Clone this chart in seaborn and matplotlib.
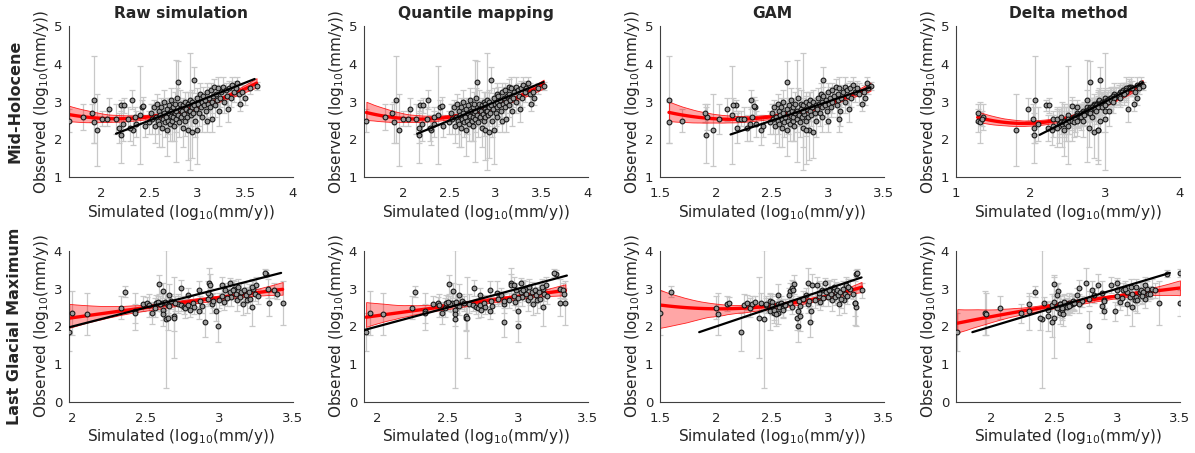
import matplotlib
matplotlib.use("Agg")
import numpy as np
import pandas as pd
import matplotlib.pyplot as plt
from matplotlib.ticker import FormatStrFormatter
import seaborn as sns

#### DATA ####
methods = ["Raw simulation", "Quantile mapping", "GAM", "Delta method"]
periods = ["Mid-Holocene", "Last Glacial Maximum"]

# Mid-Holocene: observed values + uncertainty (shared by all four methods)
mh_obs = [
    2.50, 3.05, 2.45, 2.60, 2.70, 2.25, 2.55, 2.55, 2.80, 2.55,
    2.90, 2.90, 2.12, 2.30, 2.40, 2.55, 2.60, 3.05, 2.25, 2.40,
    2.65, 2.85, 2.35, 2.88, 2.30,
    2.45, 2.70, 2.55, 2.85, 2.35, 2.60, 2.95, 2.50, 2.75, 2.40,
    2.65, 2.85, 2.30, 2.55, 2.70, 3.00, 2.45, 2.60, 2.80, 2.25,
    2.50, 2.70, 2.90, 2.40, 2.62, 3.05, 2.75, 2.50, 2.85, 2.60,
    2.35, 2.70, 2.95, 2.55, 2.75, 3.10, 3.52, 2.65, 2.45, 2.80,
    2.95, 2.60, 2.75, 2.30, 2.90, 2.68, 3.00, 2.50, 2.80, 2.60,
    2.95, 2.25, 2.75, 3.05, 2.75, 2.65, 2.85, 2.20, 3.00, 2.70,
    3.58, 2.90, 2.50, 2.80, 3.10, 2.25, 2.95, 2.70, 3.20, 2.85,
    3.00, 2.60, 3.15, 2.90, 3.05, 2.75, 2.50, 3.25, 2.95, 3.10,
    2.85, 3.30, 3.00, 2.55, 3.15, 3.40, 2.90, 3.20, 3.05, 3.35,
    2.75, 3.10, 3.25, 3.40, 3.00, 3.30, 3.15, 2.80, 3.35, 3.10,
    3.45, 3.25, 3.35, 3.50, 3.20, 2.95, 3.25, 3.10, 3.35, 3.42,
]
mh_err = [
    0.30, 1.15, 0.55, 0.35, 0.25, 0.95, 0.20, 0.20, 0.30, 0.40,
    0.15, 0.20, 0.75, 0.40, 0.45, 0.30, 0.25, 0.25, 0.40, 0.35,
    1.30, 0.20, 0.30, 0.25, 0.35,
    0.30, 0.25, 0.40, 0.20, 0.45, 0.30, 0.25, 0.35, 0.20, 0.60,
    0.30, 0.25, 0.50, 0.30, 0.20, 0.30, 0.40, 0.25, 0.30, 0.70,
    0.35, 0.25, 0.20, 0.45, 0.30, 0.30, 0.20, 0.55, 0.25, 0.30,
    0.40, 0.20, 0.30, 0.35, 1.35, 0.25, 0.55, 0.30, 0.40, 0.20,
    0.35, 0.25, 0.30, 0.50, 0.20, 0.30, 0.25, 0.40, 0.20, 0.35,
    0.30, 0.80, 0.25, 0.20, 1.55, 0.30, 0.25, 0.70, 0.30, 0.25,
    0.35, 0.20, 0.45, 0.30, 0.25, 0.90, 0.20, 0.35, 0.30, 0.25,
    0.20, 0.40, 0.25, 0.30, 0.20, 0.35, 0.30, 0.25, 0.20, 0.30,
    0.25, 0.20, 0.30, 0.35, 0.25, 0.20, 0.30, 0.25, 0.20, 0.30,
    0.40, 0.25, 0.20, 0.25, 0.30, 0.20, 0.25, 0.35, 0.20, 0.25,
    0.20, 0.25, 0.20, 0.15, 0.30, 0.20, 0.20, 0.20, 0.15, 0.10,
]
mh_raw = [
    1.66, 1.92, 1.92, 1.80, 1.90, 1.95, 2.00, 2.06, 2.08, 2.15,
    2.20, 2.23, 2.20, 2.18, 2.22, 2.28, 2.35, 2.32, 2.33, 2.36,
    2.40, 2.42, 2.45, 2.43, 2.30,
    2.50, 2.52, 2.53, 2.55, 2.56, 2.57, 2.58, 2.59, 2.60, 2.60,
    2.61, 2.62, 2.63, 2.64, 2.65, 2.65, 2.66, 2.67, 2.68, 2.68,
    2.69, 2.70, 2.70, 2.71, 2.72, 2.72, 2.73, 2.74, 2.75, 2.75,
    2.76, 2.77, 2.77, 2.78, 2.78, 2.79, 2.80, 2.80, 2.81, 2.82,
    2.82, 2.83, 2.84, 2.85, 2.85, 2.86, 2.87, 2.87, 2.88, 2.89,
    2.90, 2.90, 2.91, 2.92, 2.92, 2.93, 2.94, 2.95, 2.95, 2.96,
    2.97, 2.97, 2.98, 2.99, 3.00, 3.00, 3.01, 3.02, 3.03, 3.04,
    3.05, 3.05, 3.06, 3.07, 3.08, 3.09, 3.10, 3.10, 3.11, 3.12,
    3.13, 3.14, 3.15, 3.15, 3.16, 3.18, 3.19, 3.20, 3.21, 3.22,
    3.23, 3.24, 3.25, 3.27, 3.28, 3.30, 3.31, 3.32, 3.33, 3.35,
    3.36, 3.38, 3.40, 3.42, 3.44, 3.45, 3.47, 3.50, 3.55, 3.62,
]
mh_qm = [
    1.60, 1.92, 1.90, 1.80, 1.88, 1.95, 2.00, 2.05, 2.07, 2.14,
    2.18, 2.21, 2.17, 2.17, 2.20, 2.26, 2.33, 2.27, 2.30, 2.33,
    2.38, 2.40, 2.43, 2.42, 2.29,
    2.50, 2.52, 2.53, 2.55, 2.56, 2.57, 2.58, 2.59, 2.60, 2.60,
    2.61, 2.62, 2.63, 2.64, 2.65, 2.65, 2.66, 2.67, 2.68, 2.68,
    2.69, 2.70, 2.70, 2.71, 2.72, 2.72, 2.73, 2.74, 2.75, 2.75,
    2.76, 2.77, 2.77, 2.78, 2.78, 2.79, 2.80, 2.80, 2.81, 2.82,
    2.82, 2.83, 2.84, 2.85, 2.85, 2.86, 2.87, 2.87, 2.88, 2.89,
    2.89, 2.89, 2.90, 2.91, 2.91, 2.92, 2.93, 2.93, 2.93, 2.94,
    2.95, 2.95, 2.96, 2.97, 2.98, 2.98, 2.99, 3.00, 3.01, 3.01,
    3.02, 3.02, 3.03, 3.04, 3.05, 3.06, 3.07, 3.07, 3.08, 3.09,
    3.10, 3.10, 3.11, 3.11, 3.12, 3.14, 3.15, 3.15, 3.16, 3.17,
    3.18, 3.19, 3.20, 3.22, 3.22, 3.24, 3.25, 3.26, 3.27, 3.29,
    3.30, 3.32, 3.33, 3.35, 3.37, 3.38, 3.40, 3.42, 3.46, 3.52,
]
mh_gam = [
    1.70, 1.58, 1.58, 1.92, 1.90, 1.97, 2.20, 2.22, 2.10, 2.03,
    2.18, 2.15, 1.91, 2.19, 2.30, 2.25, 2.32, 2.31, 2.40, 2.36,
    2.14, 2.35, 2.42, 2.34, 2.28,
    2.48, 2.50, 2.51, 2.52, 2.53, 2.54, 2.55, 2.55, 2.56, 2.56,
    2.57, 2.58, 2.59, 2.59, 2.60, 2.60, 2.61, 2.62, 2.63, 2.63,
    2.64, 2.65, 2.65, 2.66, 2.67, 2.67, 2.68, 2.69, 2.69, 2.69,
    2.70, 2.71, 2.71, 2.72, 2.72, 2.73, 2.63, 2.74, 2.75, 2.76,
    2.76, 2.77, 2.78, 2.78, 2.78, 2.79, 2.80, 2.80, 2.81, 2.82,
    2.83, 2.83, 2.84, 2.84, 2.78, 2.85, 2.86, 2.87, 2.87, 2.88,
    2.96, 2.89, 2.89, 2.90, 2.91, 2.80, 2.92, 2.93, 2.94, 2.95,
    2.95, 2.95, 2.96, 2.97, 2.98, 2.99, 3.00, 3.00, 3.01, 3.02,
    3.03, 3.04, 3.04, 3.10, 3.05, 3.07, 3.08, 3.09, 3.09, 3.10,
    3.11, 3.12, 3.13, 3.15, 3.15, 3.17, 3.18, 3.19, 3.20, 3.21,
    3.22, 3.24, 3.26, 3.35, 3.28, 3.30, 3.32, 3.33, 3.36, 3.38,
]
mh_delta = [
    1.30, 2.06, 1.32, 1.36, 1.29, 1.80, 1.35, 2.30, 1.97, 2.03,
    2.20, 2.25, 2.05, 2.04, 2.10, 2.35, 2.40, 2.75, 2.28, 2.38,
    2.50, 2.62, 2.30, 2.55, 2.23,
    2.40, 2.62, 2.50, 2.75, 2.38, 2.58, 2.85, 2.45, 2.70, 2.42,
    2.62, 2.80, 2.35, 2.55, 2.68, 2.90, 2.45, 2.60, 2.78, 2.45,
    2.52, 2.70, 2.85, 2.48, 2.63, 2.92, 2.74, 2.55, 2.82, 2.64,
    2.50, 2.72, 2.90, 2.60, 2.76, 3.00, 2.80, 2.68, 2.58, 2.80,
    2.92, 2.66, 2.76, 2.78, 2.88, 2.72, 2.96, 2.62, 2.82, 2.68,
    2.94, 2.90, 2.80, 3.02, 3.00, 2.72, 2.86, 2.85, 2.98, 2.78,
    2.93, 2.92, 2.70, 2.86, 3.06, 2.90, 2.96, 2.80, 3.12, 2.90,
    3.00, 2.82, 3.10, 2.95, 3.04, 2.88, 2.93, 3.20, 3.00, 3.08,
    2.95, 3.24, 3.04, 3.00, 3.14, 3.32, 3.00, 3.18, 3.08, 3.28,
    3.05, 3.12, 3.22, 3.35, 3.10, 3.28, 3.18, 3.30, 3.33, 3.20,
    3.42, 3.28, 3.36, 3.48, 3.25, 3.38, 3.40, 3.42, 3.45, 3.50,
]

# Last Glacial Maximum
lgm_obs = [
    1.85, 2.35, 2.33, 2.50, 2.92, 2.40, 2.35, 2.60, 2.63, 2.56,
    2.36, 2.50, 2.63, 3.12, 2.60, 2.63, 2.95, 2.43, 2.32, 2.20,
    2.22, 2.56, 2.83, 2.67, 2.28, 2.23, 2.60, 3.02, 2.56, 2.52,
    2.48, 2.83, 2.58, 2.63, 2.52, 2.96, 2.41, 2.67, 2.55, 2.13,
    2.74, 3.14, 3.10, 2.83, 2.60, 2.40, 2.00, 2.70, 3.10, 2.82,
    2.65, 2.96, 3.14, 2.92, 2.78, 3.00, 2.87, 2.70, 3.05, 2.78,
    2.92, 2.60, 2.96, 2.83, 2.70, 2.92, 2.74, 2.52, 3.00, 2.87,
    3.10, 3.40, 3.00, 2.63, 2.96, 2.87, 2.63, 3.42, 2.65, 2.60,
    2.66, 2.55, 2.62, 2.68, 2.75, 2.98, 3.05, 2.80, 2.90, 2.45,
]
lgm_err = [
    0.50, 0.58, 0.55, 0.30, 0.15, 0.50, 0.25, 0.20, 0.15, 0.30,
    0.30, 0.25, 0.20, 0.25, 0.20, 0.25, 0.20, 0.25, 0.30, 1.83,
    0.30, 0.20, 0.30, 0.20, 0.40, 1.07, 0.25, 0.20, 0.15, 0.20,
    0.25, 0.20, 0.15, 0.20, 0.20, 0.25, 0.20, 0.15, 0.20, 0.40,
    0.20, 0.40, 0.30, 0.20, 0.25, 0.25, 0.40, 0.20, 0.20, 0.25,
    0.20, 0.20, 0.15, 0.20, 0.25, 0.20, 0.20, 0.30, 0.20, 0.20,
    0.25, 0.30, 0.20, 0.20, 0.35, 0.20, 0.25, 0.50, 0.20, 0.20,
    0.20, 0.10, 0.25, 0.35, 0.20, 0.15, 0.58, 0.10, 0.20, 0.20,
    0.15, 0.25, 0.20, 0.20, 0.20, 0.25, 0.20, 0.20, 0.30, 0.20,
]
lgm_raw = [
    1.98, 2.00, 2.10, 2.33, 2.36, 2.43, 2.43, 2.48, 2.51, 2.52,
    2.54, 2.56, 2.57, 2.59, 2.60, 2.61, 2.62, 2.62, 2.62, 2.64,
    2.65, 2.65, 2.66, 2.67, 2.69, 2.69, 2.72, 2.74, 2.74, 2.76,
    2.77, 2.79, 2.79, 2.82, 2.83, 2.86, 2.86, 2.87, 2.88, 2.90,
    2.92, 2.93, 2.94, 2.94, 2.95, 2.98, 2.99, 3.00, 3.02, 3.02,
    3.03, 3.04, 3.07, 3.07, 3.08, 3.10, 3.11, 3.12, 3.13, 3.14,
    3.15, 3.16, 3.17, 3.18, 3.19, 3.20, 3.21, 3.22, 3.23, 3.24,
    3.25, 3.32, 3.33, 3.34, 3.37, 3.39, 3.43, 3.31, 2.63, 2.60,
    2.58, 2.66, 2.70, 2.96, 3.05, 3.09, 3.22, 3.26, 2.92, 2.80,
]
lgm_qm = [
    1.92, 1.95, 2.04, 2.25, 2.27, 2.34, 2.34, 2.40, 2.43, 2.44,
    2.46, 2.48, 2.49, 2.51, 2.52, 2.53, 2.54, 2.55, 2.55, 2.55,
    2.63, 2.57, 2.58, 2.60, 2.63, 2.64, 2.65, 2.69, 2.68, 2.70,
    2.72, 2.73, 2.73, 2.76, 2.77, 2.80, 2.80, 2.81, 2.82, 2.90,
    2.86, 2.95, 2.95, 2.88, 2.90, 3.00, 3.00, 2.94, 2.97, 2.97,
    2.98, 2.99, 3.02, 3.02, 3.03, 3.05, 3.06, 3.07, 3.08, 3.09,
    3.10, 3.11, 3.12, 3.13, 3.14, 3.15, 3.16, 3.18, 3.18, 3.19,
    3.20, 3.27, 3.30, 3.30, 3.32, 3.33, 3.34, 3.26, 2.56, 2.52,
    2.50, 2.58, 2.62, 2.90, 3.00, 3.04, 3.17, 3.21, 2.85, 2.74,
]
lgm_gam = [
    2.22, 1.50, 2.02, 2.00, 1.60, 2.48, 2.52, 2.10, 2.12, 2.25,
    2.55, 2.30, 2.28, 2.70, 2.32, 2.40, 2.66, 2.52, 2.54, 2.43,
    2.72, 2.45, 2.55, 2.48, 2.75, 2.38, 2.55, 2.68, 2.57, 2.56,
    2.60, 2.65, 2.62, 2.66, 2.68, 2.69, 2.73, 2.74, 2.75, 2.84,
    2.78, 2.82, 2.86, 2.80, 2.82, 2.85, 2.73, 2.88, 2.90, 2.92,
    2.93, 2.95, 2.97, 2.98, 3.00, 3.02, 3.03, 3.04, 3.05, 3.06,
    3.07, 3.10, 3.08, 3.09, 3.14, 3.11, 3.12, 3.25, 3.13, 3.15,
    3.16, 3.25, 3.20, 3.24, 3.30, 3.22, 3.24, 3.26, 2.50, 2.45,
    2.35, 2.50, 2.58, 2.83, 2.96, 3.01, 3.18, 3.17, 2.92, 2.60,
]
lgm_delta = [
    1.73, 1.95, 1.96, 2.07, 2.35, 2.30, 2.24, 2.30, 2.42, 2.48,
    2.55, 2.52, 2.58, 2.50, 2.55, 2.62, 2.53, 2.56, 2.57, 2.40,
    2.39, 2.60, 2.52, 2.65, 2.45, 2.50, 2.64, 2.70, 2.61, 2.58,
    2.56, 2.68, 2.63, 2.66, 2.60, 2.80, 2.90, 2.72, 2.88, 2.48,
    2.78, 2.75, 2.85, 2.82, 2.70, 2.98, 2.78, 2.90, 2.95, 3.00,
    3.02, 3.05, 3.00, 3.08, 3.10, 3.06, 3.12, 3.14, 3.11, 3.15,
    3.18, 3.08, 3.19, 3.20, 3.16, 3.21, 3.22, 3.12, 3.24, 3.25,
    3.22, 3.40, 3.28, 3.50, 3.30, 3.26, 3.33, 3.50, 2.58, 2.55,
    2.50, 2.62, 2.66, 2.90, 3.04, 3.00, 3.15, 3.20, 2.88, 2.45,
]

# 1:1 reference line extent per panel
mh_line_lo = [2.15, 2.15, 2.13, 2.12]
mh_line_hi = [3.60, 3.52, 3.38, 3.50]
lgm_line_lo = [1.85, 1.88, 1.85, 1.85]
lgm_line_hi = [3.42, 3.35, 3.30, 3.42]

# axis ranges / ticks
mh_xlims = [(1.658, 4.0), (1.574, 4.0), (1.5, 3.5), (1.0, 4.0)]
mh_xticks = [[2, 2.5, 3, 3.5, 4], [2, 2.5, 3, 3.5, 4], [1.5, 2, 2.5, 3, 3.5], [1, 2, 3, 4]]
lgm_xlims = [(1.978, 3.5), (1.905, 3.5), (1.5, 3.5), (1.72, 3.5)]
lgm_xticks = [[2, 2.5, 3, 3.5], [2, 2.5, 3, 3.5], [1.5, 2, 2.5, 3, 3.5], [2, 2.5, 3, 3.5]]

#### PLOT ####
sns.set_theme(style="white")
plt.rcParams["font.family"] = ["DejaVu Sans"]

fig = plt.figure(figsize=(11.95, 4.53), dpi=100)

col_left = [0.0577, 0.3046, 0.5523, 0.8000]
row_bottom = [0.609, 0.1126]
ax_w, ax_h = 0.1874, 0.3333

rows = [
    dict(obs=mh_obs, err=mh_err, sims=[mh_raw, mh_qm, mh_gam, mh_delta],
         lo=mh_line_lo, hi=mh_line_hi, xlims=mh_xlims, xticks=mh_xticks,
         ylim=(1, 5), yticks=[1, 2, 3, 4, 5]),
    dict(obs=lgm_obs, err=lgm_err, sims=[lgm_raw, lgm_qm, lgm_gam, lgm_delta],
         lo=lgm_line_lo, hi=lgm_line_hi, xlims=lgm_xlims, xticks=lgm_xticks,
         ylim=(0, 4), yticks=[0, 1, 2, 3, 4]),
]

label_color = "#262626"

for r, row in enumerate(rows):
    for c in range(4):
        ax = fig.add_axes([col_left[c], row_bottom[r], ax_w, ax_h])
        df = pd.DataFrame({"sim": row["sims"][c], "obs": row["obs"], "err": row["err"]})

        ax.errorbar(df["sim"], df["obs"], yerr=df["err"], fmt="none",
                    ecolor="#c8c8c8", elinewidth=0.9, capsize=2.5,
                    capthick=0.9, zorder=1)

        n_before = len(ax.collections)
        sns.regplot(data=df, x="sim", y="obs", order=2, scatter=False,
                    ci=95, n_boot=500, seed=3, color="red",
                    line_kws={"lw": 2.4, "zorder": 2.5}, ax=ax)
        for coll in ax.collections[n_before:]:
            coll.set_alpha(None)
            coll.set_facecolor((1.0, 0.0, 0.0, 0.35))
            coll.set_edgecolor((1.0, 0.0, 0.0, 0.85))
            coll.set_linewidth(0.6)
            coll.set_zorder(2)

        sns.scatterplot(data=df, x="sim", y="obs", s=12, color="#9c9c9c",
                        edgecolor="#111111", linewidth=0.75, zorder=3,
                        legend=False, ax=ax)

        ax.plot([row["lo"][c], row["hi"][c]], [row["lo"][c], row["hi"][c]],
                color="black", lw=1.6, zorder=4)

        ax.set_xlim(*row["xlims"][c])
        ax.set_ylim(*row["ylim"])
        ax.set_xticks(row["xticks"][c])
        ax.set_yticks(row["yticks"])
        ax.xaxis.set_major_formatter(FormatStrFormatter("%g"))
        ax.yaxis.set_major_formatter(FormatStrFormatter("%g"))
        ax.tick_params(direction="in", length=3, width=0.8, colors="#404040",
                       labelcolor=label_color, labelsize=9.5)
        ax.tick_params(axis="x", pad=7)
        ax.tick_params(axis="y", pad=5)
        sns.despine(ax=ax)
        for sp in ["left", "bottom"]:
            ax.spines[sp].set_color("#404040")
            ax.spines[sp].set_linewidth(0.8)

        ax.set_xlabel("Simulated (log$_{10}$(mm/y))", fontsize=11,
                      color=label_color, labelpad=2)
        ax.set_ylabel("Observed (log$_{10}$(mm/y))", fontsize=11,
                      color=label_color, labelpad=2)
        if r == 0:
            ax.set_title(methods[c], fontsize=11.2, fontweight="bold", pad=6)

    fig.text(15 / 1195, row_bottom[r] + ax_h / 2, periods[r], rotation=90,
             ha="center", va="center", fontsize=11.5, fontweight="bold")

fig.savefig("out.png", dpi=100)
